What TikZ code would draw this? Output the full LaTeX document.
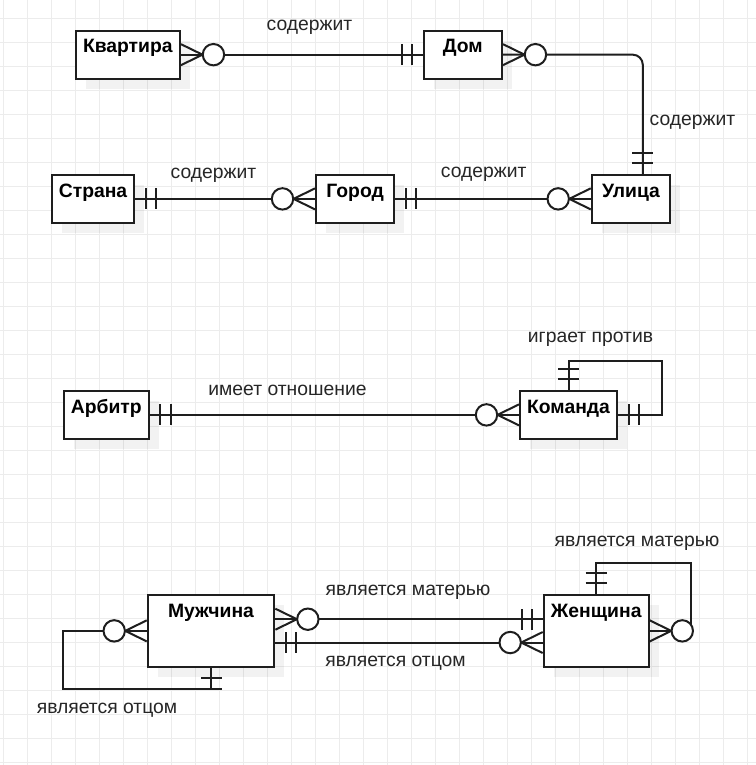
\documentclass[tikz,border=0pt]{standalone}
\usepackage{fontspec}
\setmainfont{Liberation Sans}
\usetikzlibrary{calc,shadows}

\definecolor{lineclr}{HTML}{1E1E1E}
\definecolor{gridclr}{HTML}{ECECEC}

\begin{document}
\begin{tikzpicture}[x=0.75pt, y=-0.75pt,
  ink/.style={draw=lineclr, line width=1.5pt},
  gridline/.style={draw=gridclr, line width=0.75pt},
  entity/.style={draw=lineclr, fill=white, line width=1.5pt, inner sep=0pt,
    anchor=north west, text height=16.5pt,
    font=\bfseries\fontsize{14.5pt}{17pt}\selectfont,
    drop shadow={shadow xshift=7.5pt, shadow yshift=-7.5pt, fill=black, opacity=0.05}},
  rel/.style={anchor=base, inner sep=0pt, font=\fontsize{14.5pt}{17pt}\selectfont, text=black!85},
  pics/zeromany/.style={code={
    \draw[ink] (0,-10.5) -- (21.5,0) -- (0,10.5);
    \draw[ink, fill=white] (32.5,0) circle[radius=10.7];}},
  pics/oneone/.style={code={
    \draw[ink] (10.7,-10.5) -- (10.7,10.5) (21,-10.5) -- (21,10.5);}}
]
\useasboundingbox (0,0) rectangle (756,765);
\fill[white] (0,0) rectangle (756,765);

% background grid
\foreach \i in {0,...,31} {\draw[gridline] ({3.3+24*\i},0) -- ++(0,765);}
\foreach \j in {0,...,31} {\draw[gridline] (0,{18.3+24*\j}) -- ++(756,0);}

% entities
\node[entity, minimum width=78.2pt, text depth=19.3pt] (kv)   at (74.7,29.8)  {Квартира};
\node[entity, minimum width=58.7pt, text depth=19.3pt] (dom)  at (422.7,29.8) {Дом};
\node[entity, minimum width=59pt,   text depth=19.3pt] (ul)   at (590.7,174)  {Улица};
\node[entity, minimum width=62pt,   text depth=19.3pt] (st)   at (50.7,174)   {Страна};
\node[entity, minimum width=58.7pt, text depth=19.3pt] (gor)  at (315,174)    {Город};
\node[entity, minimum width=63.8pt, text depth=19.3pt] (arb)  at (62.7,390)   {Арбитр};
\node[entity, minimum width=72.8pt, text depth=19.3pt] (kom)  at (519,390)    {Команда};
\node[entity, minimum width=95pt,   text depth=37.3pt] (muzh) at (146.7,594)  {Мужчина};
\node[entity, minimum width=78.8pt, text depth=37.3pt] (zhen) at (542.7,594)  {Женщина};

% loop corners
\coordinate (komloop) at ($(kom.east)+(44,-54)$);
\coordinate (mloop) at (62.7,689.3);
\coordinate (zloop) at (690.5,563.3);

% connectors
\draw[ink] (kv.east) -- (dom.west);
\draw[ink, rounded corners=7.5pt] (dom.east) -| ([xshift=8.8pt]ul.north);
\draw[ink] (st.east) -- (gor.west);
\draw[ink] (gor.east) -- (ul.west);
\draw[ink] (arb.east) -- (kom.west);
\draw[ink] (kom.east) -| (komloop) -| (kom.north);
\draw[ink] (muzh.west) -| (mloop) -| (muzh.south);
\draw[ink] ([yshift=8.75pt]muzh.east) -- ([yshift=8.75pt]zhen.west);
\draw[ink] ([yshift=-8.75pt]muzh.east) -- ([yshift=-8.75pt]zhen.west);
\draw[ink] (zhen.east) -| (zloop) -| (zhen.north);

% cardinality marks
\pic at (kv.east) {zeromany};
\pic[rotate=180] at (dom.west) {oneone};
\pic at (dom.east) {zeromany};
\pic[rotate=90] at ([xshift=8.8pt]ul.north) {oneone};
\pic at (st.east) {oneone};
\pic[rotate=180] at (gor.west) {zeromany};
\pic at (gor.east) {oneone};
\pic[rotate=180] at (ul.west) {zeromany};
\pic at (arb.east) {oneone};
\pic[rotate=180] at (kom.west) {zeromany};
\pic[rotate=90] at (kom.north) {oneone};
\pic at (kom.east) {oneone};
\pic[rotate=180] at (muzh.west) {zeromany};
\pic[rotate=-90] at (muzh.south) {oneone};
\pic at ([yshift=8.75pt]muzh.east) {zeromany};
\pic at ([yshift=-8.75pt]muzh.east) {oneone};
\pic[rotate=180] at ([yshift=8.75pt]zhen.west) {oneone};
\pic[rotate=180] at ([yshift=-8.75pt]zhen.west) {zeromany};
\pic[rotate=90] at (zhen.north) {oneone};
\pic at (zhen.east) {zeromany};

% relationship labels
\node[rel] (l1)  at (309.5,30)   {содержит};
\node[rel] (l2)  at (692.5,125)  {содержит};
\node[rel] (l3)  at (213.5,178.3) {содержит};
\node[rel] (l4)  at (483.7,177.7) {содержит};
\node[rel] (l5)  at (287.5,395)  {имеет отношение};
\node[rel] (l6)  at (590.5,342.7) {играет против};
\node[rel] (l7)  at (637,546.7)  {является матерью};
\node[rel] (l8)  at (408,595.7)  {является матерью};
\node[rel] (l9)  at (395.5,666.7) {является отцом};
\node[rel] (l10) at (107,713.3)  {является отцом};
\end{tikzpicture}
\end{document}
